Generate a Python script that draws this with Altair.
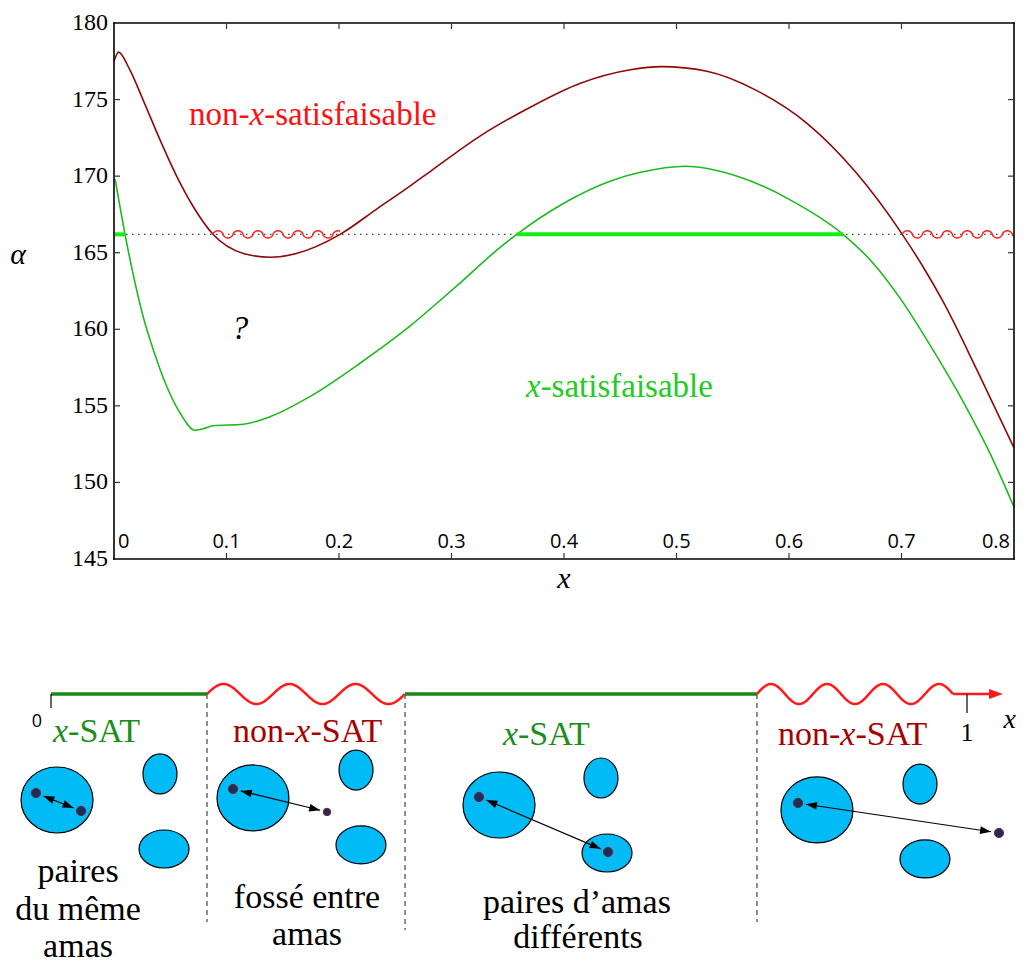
import numpy as np
import pandas as pd
import altair as alt

# ================= top panel : values =================
x_ticks = [0.0, 0.1, 0.2, 0.3, 0.4, 0.5, 0.6, 0.7, 0.8]
y_ticks = [145, 150, 155, 160, 165, 170, 175, 180]
inner_x_ticks = [0.1, 0.2, 0.3, 0.4, 0.5, 0.6, 0.7]
inner_y_ticks = [150, 155, 160, 165, 170, 175]
x_min, x_max = 0.0, 0.8
y_min, y_max = 145, 180

unsat_x = [0.0, 0.004, 0.014, 0.026, 0.041, 0.056, 0.0705, 0.088, 0.115, 0.139,
           0.162, 0.201, 0.2335, 0.263, 0.281, 0.325, 0.370, 0.414, 0.459, 0.487,
           0.527, 0.571, 0.616, 0.660, 0.7007, 0.719, 0.737, 0.768, 0.8]
unsat_y = [177.5, 178.1, 176.95, 174.95, 172.35, 169.95, 168.0, 166.2, 164.95, 164.7,
           164.95, 166.2, 167.85, 169.35, 170.3, 172.6, 174.5, 176.05, 176.95, 177.15,
           176.85, 175.6, 173.45, 170.2, 166.2, 164.1, 161.8, 157.2, 152.25]

sat_x = [0.001, 0.0098, 0.017, 0.026, 0.035, 0.047, 0.059, 0.072, 0.079, 0.088,
         0.115, 0.139, 0.174, 0.219, 0.263, 0.287, 0.308, 0.340, 0.358, 0.399,
         0.444, 0.468, 0.508, 0.556, 0.601, 0.648, 0.675, 0.699, 0.728, 0.755,
         0.779, 0.8]
sat_y = [169.8, 166.2, 163.6, 160.8, 158.65, 156.25, 154.5, 153.4, 153.5, 153.7,
         153.8, 154.3, 155.6, 157.8, 160.2, 161.7, 163.05, 165.15, 166.2, 168.2,
         169.75, 170.25, 170.65, 169.95, 168.45, 166.2, 164.3, 162.0, 158.65, 155.25,
         151.85, 148.4]

threshold = 166.2
sat_seg_start = [0.0, 0.358]
sat_seg_end = [0.0098, 0.648]
unsat_seg_start = [0.088, 0.7007]
unsat_seg_end = [0.201, 0.8]

top_label_x = [0.0667, 0.3662, 0.112]
top_label_y = [173.34, 155.58, 159.37]

# ================= bottom diagram : positions in units of its x axis (0 .. 1) =================
phase_bounds = [0.0, 0.1703, 0.3865, 0.7707, 0.9847]
dash_bottom = [-0.2489, -0.2576, -0.2489]
axis_end = 1.0393

blob_kind = ["big", "top", "bottom"] * 4
blob_x = [0.0066, 0.1190, 0.1234, 0.2205, 0.3330, 0.3384,
          0.4891, 0.6004, 0.6070, 0.8362, 0.9487, 0.9541]
blob_y = [-0.1157, -0.0873, -0.1692, -0.1135, -0.0830, -0.1648,
          -0.1212, -0.0917, -0.1736, -0.1266, -0.0983, -0.1801]

dot_x = [-0.0164, 0.0328, 0.1987, 0.3013, 0.4672, 0.6081, 0.8155, 1.0349]
dot_y = [-0.1081, -0.1277, -0.1037, -0.1288, -0.1124, -0.1725, -0.1190, -0.1517]
dot_small = [False, False, False, True, False, False, False, False]
pairs = [(0, 1), (2, 3), (4, 5), (6, 7)]

phase_labels = ["x-SAT", "non-x-SAT", "x-SAT", "non-x-SAT"]
phase_label_x = [0.0022, 0.1987, 0.4934, 0.7937]
phase_label_y = [-0.0524, -0.0524, -0.0557, -0.0557]

note_lines = ["paires", "du même", "amas", "fossé entre", "amas", "paires d’amas", "différents"]
note_x = [0.0295, 0.0295, 0.0295, 0.2795, 0.2795, 0.5742, 0.5753]
note_y = [-0.2052, -0.2467, -0.2871, -0.2336, -0.2740, -0.2391, -0.2773]

axis_tick_x = [0.0, 1.0]
axis_tick_len = [-0.0153, -0.0207]
axis_label_text = ["0", "1", "x"]
axis_label_x = [-0.0153, 1.0, 1.0465]
axis_label_y = [-0.0306, -0.0426, -0.0284]

# ================= layout (pixels) =================
SERIF = "Liberation Serif"
SANS = "Open Sans"
W, H = 1004, 940            # one plot area for the whole figure
PAGE0 = 8                   # page margin
TOP_LEFT, TOP_TOP = 114, 23 # where the top frame starts on the page
TPX, TPY = 1125.0, 15.314   # pixels per unit (x, alpha)
BX0, BY0, BPX = 51, 694, 916.0  # bottom axis origin on the page, pixels per unit

tx0 = (PAGE0 - TOP_LEFT) / TPX
ty1 = y_max + (TOP_TOP - PAGE0) / TPY
xs_top = alt.Scale(domain=[tx0, tx0 + W / TPX], nice=False, zero=False)
ys_top = alt.Scale(domain=[ty1 - H / TPY, ty1], nice=False, zero=False)

bx0 = (PAGE0 - BX0) / BPX
by1 = (BY0 - PAGE0) / BPX
xs_b = alt.Scale(domain=[bx0, bx0 + W / BPX], nice=False, zero=False)
ys_b = alt.Scale(domain=[by1 - H / BPX, by1], nice=False, zero=False)


def TX(f):
    return alt.X(f, type="quantitative", scale=xs_top, axis=None)


def TY(f):
    return alt.Y(f, type="quantitative", scale=ys_top, axis=None)


def BX(f):
    return alt.X(f, type="quantitative", scale=xs_b, axis=None)


def BY(f):
    return alt.Y(f, type="quantitative", scale=ys_b, axis=None)


def wave(x0, x1, center, period, amp, step, power, key):
    xs = np.arange(x0, x1 + step / 2, step)
    s = np.sin(2 * np.pi * (xs - x0) / period)
    ys = center + amp * np.sign(s) * np.abs(s) ** power
    return pd.DataFrame({"x": xs, "y": ys, "seg": key})


# ---------------- top panel layers ----------------
frame_col = "black"
frame_v = alt.Chart(pd.DataFrame({"x": [x_min, x_max], "y": [y_min] * 2, "y2": [y_max] * 2})).mark_rule(
    color=frame_col, strokeWidth=1.6, strokeCap="square").encode(x=TX("x"), y=TY("y"), y2="y2")
frame_h = alt.Chart(pd.DataFrame({"y": [y_min, y_max], "x": [x_min] * 2, "x2": [x_max] * 2})).mark_rule(
    color=frame_col, strokeWidth=1.6, strokeCap="square").encode(x=TX("x"), x2="x2", y=TY("y"))

TL = 6  # inward tick length, px
xt = pd.DataFrame({"v": inner_x_ticks, "b": [y_min] * 7, "b2": [y_min + TL / TPY] * 7,
                   "t": [y_max] * 7, "t2": [y_max - TL / TPY] * 7})
yt = pd.DataFrame({"v": inner_y_ticks, "l": [x_min] * 6, "l2": [x_min + TL / TPX] * 6,
                   "r": [x_max] * 6, "r2": [x_max - TL / TPX] * 6})
tick_col = "#333"
ticks = [
    alt.Chart(xt).mark_rule(color=tick_col, strokeWidth=1.2).encode(x=TX("v"), y=TY("b"), y2="b2"),
    alt.Chart(xt).mark_rule(color=tick_col, strokeWidth=1.2).encode(x=TX("v"), y=TY("t"), y2="t2"),
    alt.Chart(yt).mark_rule(color=tick_col, strokeWidth=1.2).encode(y=TY("v"), x=TX("l"), x2="l2"),
    alt.Chart(yt).mark_rule(color=tick_col, strokeWidth=1.2).encode(y=TY("v"), x=TX("r"), x2="r2"),
]

ylab_df = pd.DataFrame({"x": [x_min] * len(y_ticks), "y": y_ticks, "t": [f"{v:g}" for v in y_ticks]})
ylabels = alt.Chart(ylab_df).mark_text(font=SERIF, fontSize=24, fontStyle="normal", color="black",
                                       align="right", baseline="middle", dx=-6).encode(
    x=TX("x"), y=TY("y"), text="t:N")
xlab_df = pd.DataFrame({"x": x_ticks, "y": [y_min] * len(x_ticks), "t": [f"{v:g}" for v in x_ticks]})
xl_kw = dict(font=SANS, fontSize=20, color="black", baseline="alphabetic", dy=-11)
xlabels = [
    alt.Chart(xlab_df.iloc[[0]]).mark_text(align="left", dx=4, **xl_kw).encode(
        x=TX("x"), y=TY("y"), text="t:N"),
    alt.Chart(xlab_df.iloc[1:-1]).mark_text(align="center", **xl_kw).encode(
        x=TX("x"), y=TY("y"), text="t:N"),
    alt.Chart(xlab_df.iloc[[-1]]).mark_text(align="right", dx=-4, **xl_kw).encode(
        x=TX("x"), y=TY("y"), text="t:N"),
]
titles = [
    alt.Chart(pd.DataFrame({"t": ["α"]})).mark_text(
        font=SERIF, fontSize=30, fontStyle="italic", color="black", align="center",
        baseline="middle").encode(x=alt.value(18 - PAGE0), y=alt.value(255 - PAGE0), text="t:N"),
    alt.Chart(pd.DataFrame({"t": ["x"]})).mark_text(
        font=SERIF, fontSize=30, fontStyle="italic", color="black", align="center",
        baseline="middle").encode(x=alt.value(564 - PAGE0), y=alt.value(579 - PAGE0), text="t:N"),
]

dotted = alt.Chart(pd.DataFrame({"x": [x_min], "x2": [x_max], "y": [threshold]})).mark_rule(
    color="#444", strokeWidth=1.1, strokeDash=[1.5, 4.5]).encode(x=TX("x"), x2="x2", y=TY("y"))
sat_segs = alt.Chart(pd.DataFrame({"x": sat_seg_start, "x2": sat_seg_end,
                                   "y": [threshold] * 2})).mark_rule(
    color="#14EE14", strokeWidth=4).encode(x=TX("x"), x2="x2", y=TY("y"))
unsat_line = alt.Chart(pd.DataFrame({"x": unsat_x, "y": unsat_y})).mark_line(
    color="#8E0A0A", strokeWidth=1.6, interpolate="monotone").encode(x=TX("x"), y=TY("y"))
sat_line = alt.Chart(pd.DataFrame({"x": sat_x, "y": sat_y})).mark_line(
    color="#1DBB1D", strokeWidth=1.6, interpolate="monotone").encode(x=TX("x"), y=TY("y"))

top_wave = pd.concat([wave(a, b, threshold, 20 / TPX, 3.6 / TPY, 0.4 / TPX, 0.6, i)
                      for i, (a, b) in enumerate(zip(unsat_seg_start, unsat_seg_end))])
unsat_waves = alt.Chart(top_wave).mark_line(color="#FF2222", strokeWidth=1.5).encode(
    x=TX("x"), y=TY("y"), detail="seg:N")

EM_NON = 1.833   # width of "non-" in em (Times metrics)
EM_X = 0.444     # width of italic "x" in em


def piece(X, Y, text, x, y, dx, italic, color, size, align="left", font=SERIF, baseline="alphabetic"):
    return alt.Chart(pd.DataFrame({"x": [x], "y": [y], "t": [text]})).mark_text(
        font=font, fontSize=size, fontStyle="italic" if italic else "normal",
        color=color, align=align, baseline=baseline, dx=dx).encode(
        x=X("x"), y=Y("y"), text="t:N")


fs = 33
red = "#FF1010"
green = "#22CC22"
top_texts = [
    piece(TX, TY, "non-", top_label_x[0], top_label_y[0], 0, False, red, fs),
    piece(TX, TY, "x", top_label_x[0], top_label_y[0], EM_NON * fs, True, red, fs),
    piece(TX, TY, "-satisfaisable", top_label_x[0], top_label_y[0], (EM_NON + EM_X) * fs, False, red, fs),
    piece(TX, TY, "x", top_label_x[1], top_label_y[1], 0, True, green, fs),
    piece(TX, TY, "-satisfaisable", top_label_x[1], top_label_y[1], EM_X * fs, False, green, fs),
    piece(TX, TY, "?", top_label_x[2], top_label_y[2], 0, True, "black", fs, "center"),
]

top_group = alt.layer(dotted, unsat_line, sat_line, sat_segs, unsat_waves, *top_texts,
                      frame_v, frame_h, *ticks, ylabels, *xlabels, *titles)

# ---------------- bottom diagram layers ----------------
dark_green = "#178A17"
wave_red = "#FF1A1A"
sat_txt = "#1C8E1C"
unsat_txt = "#A80000"

axis_green = alt.Chart(pd.DataFrame({"x": [phase_bounds[0], phase_bounds[2]],
                                     "x2": [phase_bounds[1], phase_bounds[3]],
                                     "y": [0.0, 0.0]})).mark_rule(
    color=dark_green, strokeWidth=3.5).encode(x=BX("x"), x2="x2", y=BY("y"))
bw = pd.concat([
    wave(phase_bounds[1], phase_bounds[2], 0.0, (phase_bounds[2] - phase_bounds[1]) / 3,
         10 / BPX, 0.5 / BPX, 1.0, 0),
    wave(phase_bounds[3], phase_bounds[4], 0.0, (phase_bounds[4] - phase_bounds[3]) / 3.5,
         10 / BPX, 0.5 / BPX, 1.0, 1),
])
axis_waves = alt.Chart(bw).mark_line(color=wave_red, strokeWidth=2.5).encode(
    x=BX("x"), y=BY("y"), detail="seg:N")

head_len = 14
arrow_path = "M1,0 L-1,-0.7 L-1,0.7 Z"
axis_tail = alt.Chart(pd.DataFrame({"x": [phase_bounds[4]], "x2": [axis_end - head_len / 2 / BPX],
                                   "y": [0.0]})).mark_rule(
    color=wave_red, strokeWidth=2.5).encode(x=BX("x"), x2="x2", y=BY("y"))
axis_head = alt.Chart(pd.DataFrame({"x": [axis_end - head_len / 2 / BPX], "y": [0.0]})).mark_point(
    shape=arrow_path, size=head_len ** 2, filled=True, fill=wave_red, opacity=1).encode(
    x=BX("x"), y=BY("y"))
axis_ticks = alt.Chart(pd.DataFrame({"x": axis_tick_x, "y": [0.0, 0.0], "y2": axis_tick_len})).mark_rule(
    color="black", strokeWidth=1.2).encode(x=BX("x"), y=BY("y"), y2="y2")
dashes = alt.Chart(pd.DataFrame({"x": phase_bounds[1:4], "y": [0.0] * 3,
                                "y2": dash_bottom})).mark_rule(
    color="#333", strokeWidth=1.1, strokeDash=[5, 4]).encode(x=BX("x"), y=BY("y"), y2="y2")


def ellipse_path(rx, ry):
    m = max(rx, ry)
    a, b = rx / m, ry / m
    k = 0.5523
    return (f"M{a:.4f},0 C{a:.4f},{k*b:.4f} {k*a:.4f},{b:.4f} 0,{b:.4f} "
            f"C{-k*a:.4f},{b:.4f} {-a:.4f},{k*b:.4f} {-a:.4f},0 "
            f"C{-a:.4f},{-k*b:.4f} {-k*a:.4f},{-b:.4f} 0,{-b:.4f} "
            f"C{k*a:.4f},{-b:.4f} {a:.4f},{-k*b:.4f} {a:.4f},0 Z"), (2 * m) ** 2


blob_shapes = {"big": ellipse_path(36, 33), "top": ellipse_path(17, 20), "bottom": ellipse_path(25, 19)}
blobs_df = pd.DataFrame({"x": blob_x, "y": blob_y, "kind": blob_kind})
blob_layers = []
for kind, (path, size) in blob_shapes.items():
    blob_layers.append(
        alt.Chart(blobs_df[blobs_df.kind == kind]).mark_point(
            shape=path, size=size, filled=True, fill="#00BBF5", stroke="black",
            strokeWidth=1.2, opacity=1).encode(x=BX("x"), y=BY("y")))

ah = 11
arrow_lines, heads = [], []
for a, b in pairs:
    ax, ay, bx, by = dot_x[a], dot_y[a], dot_x[b], dot_y[b]
    L = np.hypot(bx - ax, by - ay)
    ux, uy = (bx - ax) / L, (by - ay) / L
    ra = (5 + 3) / BPX
    rb = ((4 if dot_small[b] else 5) + 3) / BPX
    tax, tay = ax + ux * ra, ay + uy * ra
    tbx, tby = bx - ux * rb, by - uy * rb
    arrow_lines.append({"x": tax, "y": tay, "x2": tbx, "y2": tby})
    ang = float(np.degrees(np.arctan2(-uy, ux))) % 360
    h = ah / 2 / BPX
    heads.append({"x": tbx - ux * h, "y": tby - uy * h, "ang": ang})
    heads.append({"x": tax + ux * h, "y": tay + uy * h, "ang": (ang + 180) % 360})

arrows = alt.Chart(pd.DataFrame(arrow_lines)).mark_rule(color="black", strokeWidth=1.1).encode(
    x=BX("x"), y=BY("y"), x2="x2", y2="y2")
arrow_heads = alt.Chart(pd.DataFrame(heads)).mark_point(
    shape=arrow_path, size=ah ** 2, filled=True, fill="black", opacity=1).encode(
    x=BX("x"), y=BY("y"), angle=alt.Angle("ang:Q", scale=None))

dots_df = pd.DataFrame({"x": dot_x, "y": dot_y, "small": dot_small})
dots_big = alt.Chart(dots_df[~dots_df.small]).mark_circle(
    size=85, color="#1B2F5E", stroke="#8B1A1A", strokeWidth=1, opacity=1).encode(x=BX("x"), y=BY("y"))
dots_small = alt.Chart(dots_df[dots_df.small]).mark_circle(
    size=55, color="#1B2F5E", stroke="#8B1A1A", strokeWidth=1, opacity=1).encode(x=BX("x"), y=BY("y"))

bfs = 34
phase_texts = []
for lab, x, y in zip(phase_labels, phase_label_x, phase_label_y):
    col = unsat_txt if lab.startswith("non") else sat_txt
    off = 0.0
    if lab.startswith("non"):
        phase_texts.append(piece(BX, BY, "non-", x, y, 0, False, col, bfs))
        off = EM_NON * bfs
    phase_texts.append(piece(BX, BY, "x", x, y, off, True, col, bfs))
    phase_texts.append(piece(BX, BY, "-SAT", x, y, off + EM_X * bfs, False, col, bfs))

notes = alt.Chart(pd.DataFrame({"x": note_x, "y": note_y, "t": note_lines})).mark_text(
    font=SERIF, fontSize=34, fontStyle="normal", color="black", align="center",
    baseline="alphabetic").encode(x=BX("x"), y=BY("y"), text="t:N")

axis_labels = [
    piece(BX, BY, axis_label_text[0], axis_label_x[0], axis_label_y[0], 0, False, "black", 18,
          "center", SANS, "middle"),
    piece(BX, BY, axis_label_text[1], axis_label_x[1], axis_label_y[1], 0, False, "black", 26,
          "center", SERIF, "middle"),
    piece(BX, BY, axis_label_text[2], axis_label_x[2], axis_label_y[2], 0, True, "black", 28,
          "center", SERIF, "middle"),
]

bottom_group = alt.layer(dashes, axis_green, axis_waves, axis_tail, axis_head, axis_ticks,
                         *blob_layers, arrows, arrow_heads, dots_big, dots_small,
                         *phase_texts, notes, *axis_labels)

chart = alt.layer(top_group, bottom_group).resolve_scale(
    x="independent", y="independent").properties(
    width=W, height=H, padding=0, view=alt.ViewBackground(strokeWidth=0))

chart.save("out.html", embed_options={"renderer": "svg", "actions": False})
